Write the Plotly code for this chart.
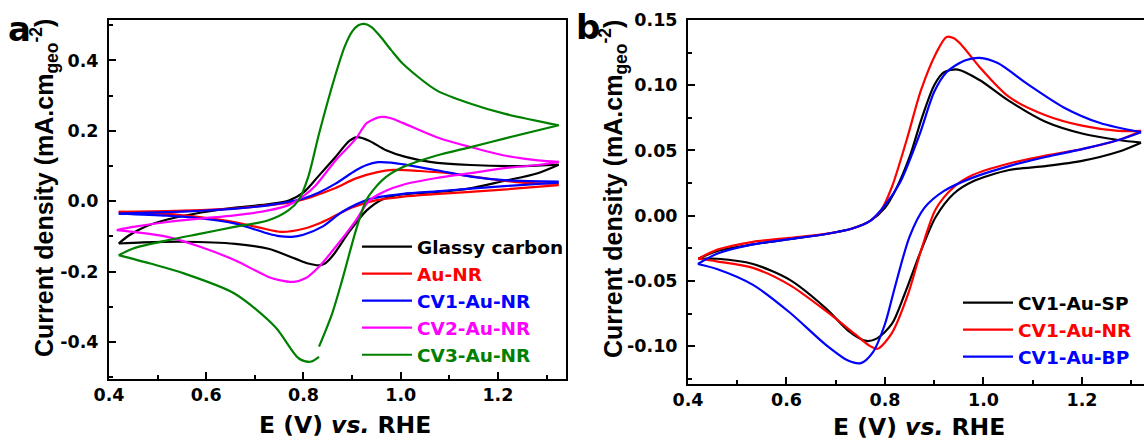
import plotly.graph_objects as go

W, H = 1144, 443

# ---------------- Panel a data (E in V vs RHE, j in mA cm-2) ----------------
gc_fwd_E = [0.42, 0.44, 0.47, 0.52, 0.59, 0.66, 0.73, 0.77, 0.80, 0.83, 0.866, 0.895, 0.911, 0.935, 0.97, 1.01, 1.06, 1.144, 1.25, 1.325]
gc_fwd_j = [-0.12, -0.098, -0.075, -0.052, -0.032, -0.018, -0.008, 0.002, 0.025, 0.07, 0.126, 0.172, 0.182, 0.172, 0.145, 0.126, 0.112, 0.103, 0.100, 0.104]
gc_rev_E = [1.325, 1.28, 1.21, 1.14, 1.07, 1.005, 0.963, 0.93, 0.895, 0.86, 0.845, 0.832, 0.81, 0.783, 0.728, 0.66, 0.55, 0.47, 0.42]
gc_rev_j = [0.104, 0.079, 0.057, 0.036, 0.026, 0.020, 0.006, -0.026, -0.085, -0.155, -0.176, -0.182, -0.177, -0.163, -0.135, -0.121, -0.115, -0.117, -0.12]

nr_fwd_E = [0.42, 0.52, 0.59, 0.66, 0.73, 0.77, 0.80, 0.832, 0.866, 0.908, 0.95, 0.984, 1.04, 1.11, 1.18, 1.25, 1.325]
nr_fwd_j = [-0.030, -0.028, -0.025, -0.020, -0.011, -0.004, 0.005, 0.020, 0.038, 0.065, 0.082, 0.089, 0.086, 0.078, 0.064, 0.053, 0.050]
nr_rev_E = [1.325, 1.21, 1.07, 1.005, 0.95, 0.90, 0.86, 0.832, 0.80, 0.755, 0.71, 0.66, 0.59, 0.52, 0.42]
nr_rev_j = [0.046, 0.033, 0.020, 0.013, 0.003, -0.018, -0.045, -0.063, -0.078, -0.087, -0.075, -0.060, -0.046, -0.036, -0.030]

cv1_fwd_E = [0.42, 0.52, 0.59, 0.66, 0.73, 0.776, 0.80, 0.832, 0.866, 0.908, 0.93, 0.953, 0.98, 1.005, 1.074, 1.144, 1.213, 1.325]
cv1_fwd_j = [-0.035, -0.031, -0.027, -0.021, -0.011, 0.000, 0.008, 0.025, 0.050, 0.088, 0.103, 0.111, 0.110, 0.105, 0.088, 0.070, 0.060, 0.056]
cv1_rev_E = [1.325, 1.282, 1.213, 1.144, 1.074, 1.005, 0.936, 0.88, 0.839, 0.80, 0.776, 0.75, 0.728, 0.658, 0.589, 0.52, 0.42]
cv1_rev_j = [0.053, 0.049, 0.043, 0.036, 0.028, 0.021, 0.006, -0.030, -0.072, -0.095, -0.101, -0.099, -0.092, -0.063, -0.049, -0.041, -0.035]

cv2_fwd_E = [0.416, 0.45, 0.52, 0.589, 0.658, 0.728, 0.769, 0.797, 0.825, 0.866, 0.908, 0.93, 0.957, 0.98, 1.005, 1.074, 1.144, 1.213, 1.282, 1.325]
cv2_fwd_j = [-0.082, -0.073, -0.059, -0.049, -0.040, -0.026, -0.011, 0.012, 0.045, 0.116, 0.178, 0.222, 0.239, 0.236, 0.222, 0.182, 0.154, 0.130, 0.116, 0.112]
cv2_rev_E = [1.325, 1.282, 1.213, 1.144, 1.074, 1.005, 0.97, 0.936, 0.908, 0.866, 0.832, 0.804, 0.78, 0.75, 0.728, 0.658, 0.589, 0.52, 0.45, 0.416]
cv2_rev_j = [0.112, 0.103, 0.094, 0.080, 0.066, 0.047, 0.030, 0.003, -0.054, -0.130, -0.186, -0.219, -0.229, -0.224, -0.215, -0.167, -0.130, -0.101, -0.087, -0.082]

cv3_fwd_E = [0.42, 0.45, 0.52, 0.589, 0.658, 0.728, 0.769, 0.79, 0.81, 0.832, 0.866, 0.885, 0.90, 0.913, 0.925, 0.94, 0.957, 0.98, 1.005, 1.074, 1.144, 1.213, 1.325]
cv3_fwd_j = [-0.153, -0.134, -0.111, -0.092, -0.073, -0.054, -0.026, 0.003, 0.070, 0.192, 0.360, 0.440, 0.482, 0.500, 0.504, 0.495, 0.470, 0.430, 0.390, 0.315, 0.277, 0.249, 0.216]
cv3_rev_E = [1.325, 1.213, 1.144, 1.074, 1.005, 0.97, 0.943, 0.929, 0.908, 0.88, 0.859, 0.832]
cv3_rev_j = [0.216, 0.178, 0.154, 0.130, 0.097, 0.069, 0.031, 0.003, -0.082, -0.222, -0.319, -0.413]
cv3_tail_E = [0.832, 0.814, 0.79, 0.742, 0.658, 0.554, 0.485, 0.42]
cv3_tail_j = [-0.442, -0.456, -0.446, -0.357, -0.262, -0.205, -0.177, -0.153]

# ---------------- Panel b data ----------------
sp_fwd_E = [0.421, 0.46, 0.532, 0.606, 0.68, 0.732, 0.77, 0.80, 0.822, 0.85, 0.875, 0.90, 0.92, 0.948, 0.992, 1.052, 1.126, 1.2, 1.274, 1.32]
sp_fwd_j = [-0.033, -0.027, -0.022, -0.018, -0.014, -0.010, -0.004, 0.006, 0.020, 0.045, 0.075, 0.100, 0.110, 0.112, 0.104, 0.088, 0.072, 0.063, 0.058, 0.056]
sp_rev_E = [1.32, 1.274, 1.2, 1.126, 1.052, 0.977, 0.94, 0.903, 0.873, 0.84, 0.814, 0.784, 0.762, 0.725, 0.68, 0.606, 0.532, 0.46, 0.421]
sp_rev_j = [0.056, 0.049, 0.042, 0.038, 0.035, 0.026, 0.017, -0.001, -0.027, -0.060, -0.083, -0.094, -0.096, -0.088, -0.071, -0.049, -0.037, -0.033, -0.033]

nrb_fwd_E = [0.421, 0.46, 0.532, 0.606, 0.68, 0.732, 0.77, 0.792, 0.814, 0.844, 0.873, 0.903, 0.925, 0.94, 0.955, 0.992, 1.052, 1.126, 1.2, 1.274, 1.32]
nrb_fwd_j = [-0.033, -0.026, -0.020, -0.017, -0.014, -0.010, -0.004, 0.004, 0.022, 0.058, 0.096, 0.124, 0.137, 0.136, 0.131, 0.114, 0.091, 0.077, 0.069, 0.065, 0.065]
nrb_rev_E = [1.32, 1.274, 1.2, 1.126, 1.052, 0.977, 0.94, 0.903, 0.873, 0.847, 0.814, 0.785, 0.77, 0.74, 0.68, 0.606, 0.532, 0.458, 0.421]
nrb_rev_j = [0.065, 0.058, 0.051, 0.046, 0.040, 0.031, 0.022, 0.005, -0.027, -0.060, -0.090, -0.102, -0.100, -0.091, -0.073, -0.053, -0.040, -0.035, -0.033]

bp_fwd_E = [0.42, 0.46, 0.532, 0.606, 0.68, 0.732, 0.77, 0.80, 0.83, 0.87, 0.90, 0.925, 0.962, 0.992, 1.029, 1.089, 1.163, 1.237, 1.32]
bp_fwd_j = [-0.037, -0.029, -0.022, -0.018, -0.014, -0.010, -0.004, 0.008, 0.025, 0.062, 0.095, 0.110, 0.119, 0.121, 0.117, 0.101, 0.083, 0.071, 0.064]
bp_rev_E = [1.32, 1.274, 1.2, 1.126, 1.052, 0.977, 0.92, 0.88, 0.85, 0.82, 0.80, 0.775, 0.751, 0.725, 0.68, 0.606, 0.532, 0.46, 0.42]
bp_rev_j = [0.064, 0.058, 0.051, 0.045, 0.038, 0.029, 0.019, 0.006, -0.016, -0.055, -0.083, -0.105, -0.113, -0.111, -0.099, -0.074, -0.053, -0.041, -0.037]

# ---------------- labels ----------------
names_a = ["Glassy carbon", "Au-NR", "CV1-Au-NR", "CV2-Au-NR", "CV3-Au-NR"]
colors_a = ["#000000", "#ff0000", "#0000ff", "#ff00ff", "#008000"]
names_b = ["CV1-Au-SP", "CV1-Au-NR", "CV1-Au-BP"]
colors_b = ["#000000", "#ff0000", "#0000ff"]

x_tickvals = [0.4, 0.6, 0.8, 1.0, 1.2]
x_ticktext = ["0.4", "0.6", "0.8", "1.0", "1.2"]
ya_tickvals = [-0.4, -0.2, 0.0, 0.2, 0.4]
ya_ticktext = ["-0.4", "-0.2", "0.0", "0.2", "0.4"]
yb_tickvals = [-0.10, -0.05, 0.0, 0.05, 0.10, 0.15]
yb_ticktext = ["-0.10", "-0.05", "0.00", "0.05", "0.10", "0.15"]

series_a = [
    [(gc_fwd_E, gc_fwd_j), (gc_rev_E, gc_rev_j)],
    [(nr_fwd_E, nr_fwd_j), (nr_rev_E, nr_rev_j)],
    [(cv1_fwd_E, cv1_fwd_j), (cv1_rev_E, cv1_rev_j)],
    [(cv2_fwd_E, cv2_fwd_j), (cv2_rev_E, cv2_rev_j)],
    [(cv3_fwd_E, cv3_fwd_j), (cv3_rev_E, cv3_rev_j), (cv3_tail_E, cv3_tail_j)],
]
series_b = [
    [(sp_fwd_E, sp_fwd_j), (sp_rev_E, sp_rev_j)],
    [(nrb_fwd_E, nrb_fwd_j), (nrb_rev_E, nrb_rev_j)],
    [(bp_fwd_E, bp_fwd_j), (bp_rev_E, bp_rev_j)],
]


def join(segs):
    xs, ys = [], []
    for i, (e, j) in enumerate(segs):
        if i:
            xs.append(None)
            ys.append(None)
        xs += list(e)
        ys += list(j)
    return xs, ys


fig = go.Figure()
for segs, name, col in zip(series_a, names_a, colors_a):
    xs, ys = join(segs)
    fig.add_trace(go.Scatter(x=xs, y=ys, mode="lines", xaxis="x", yaxis="y",
                             line=dict(color=col, width=2.2, shape="spline", smoothing=0.8),
                             connectgaps=False, legend="legend",
                             name=f"<span style='color:{col}'>{name}</span>"))
for segs, name, col in zip(series_b, names_b, colors_b):
    xs, ys = join(segs)
    fig.add_trace(go.Scatter(x=xs, y=ys, mode="lines", xaxis="x2", yaxis="y2",
                             line=dict(color=col, width=2.2, shape="spline", smoothing=0.8),
                             connectgaps=False, legend="legend2",
                             name=f"<span style='color:{col}'>{name}</span>"))

TICKFONT = dict(family="DejaVu Sans", size=17.5, color="black", weight="bold")
common = dict(showline=True, linewidth=2, linecolor="black", ticks="inside",
              ticklen=7, tickwidth=2, tickcolor="black", showgrid=False,
              zeroline=False, tickfont=TICKFONT, automargin=False)


def minor(d, t0):
    return dict(tickmode="linear", tick0=t0, dtick=d, ticks="inside", ticklen=4,
                tickwidth=2, tickcolor="black")


LEGFONT = dict(family="DejaVu Sans", size=18.5, color="black", weight="bold")
fig.update_layout(
    template="none",
    width=W, height=H, margin=dict(l=0, r=0, t=0, b=0, autoexpand=False),
    paper_bgcolor="white", plot_bgcolor="white", showlegend=True,
    xaxis=dict(domain=[109 / W, 566 / W], range=[0.4, 1.34], anchor="y", mirror=True,
               tickmode="array", tickvals=x_tickvals, ticktext=x_ticktext,
               minor=minor(0.1, 0.4), ticklabelstandoff=-1, **common),
    yaxis=dict(domain=[(H - 379) / H, (H - 20) / H], range=[-0.505, 0.515], anchor="x", mirror=True,
               tickmode="array", tickvals=ya_tickvals, ticktext=ya_ticktext,
               minor=minor(0.1, 0.0), ticklabelstandoff=5, **common),
    xaxis2=dict(domain=[688 / W, 1.0], range=[0.4, 1.326], anchor="y2", mirror=True,
                tickmode="array", tickvals=x_tickvals, ticktext=x_ticktext,
                minor=minor(0.1, 0.4), ticklabelstandoff=-1, **common),
    yaxis2=dict(domain=[(H - 384) / H, (H - 20) / H], range=[-0.129, 0.15], anchor="x2", mirror=False,
                tickmode="array", tickvals=yb_tickvals, ticktext=yb_ticktext,
                minor=minor(0.025, 0.0), ticklabelstandoff=5, **common),
    legend=dict(x=357 / W, y=1 - 228 / H, xanchor="left", yanchor="top",
                bgcolor="rgba(0,0,0,0)", borderwidth=0, itemwidth=50,
                font=LEGFONT, tracegroupgap=0),
    legend2=dict(x=958 / W, y=1 - 284 / H, xanchor="left", yanchor="top",
                 bgcolor="rgba(0,0,0,0)", borderwidth=0, itemwidth=50,
                 font=LEGFONT, tracegroupgap=0),
)

TITLEFONT = dict(family="DejaVu Sans", size=23.5, color="black", weight="bold")
YTITLEFONT = dict(family="Liberation Sans", size=25, color="black", weight="bold")
ytitle = "Current density (mA.cm<sub>geo</sub><sup>-2</sup>)"
xtitle = "E (V) <i>vs.</i> RHE"
annos = [
    dict(text=xtitle, x=345 / W, y=1 - 425 / H, font=TITLEFONT, textangle=0),
    dict(text=xtitle, x=919 / W, y=1 - 427 / H, font=TITLEFONT, textangle=0),
    dict(text=ytitle, x=44 / W, y=1 - 188 / H, font=YTITLEFONT, textangle=-90),
    dict(text=ytitle, x=613 / W, y=1 - 189 / H, font=YTITLEFONT, textangle=-90),
]
for a in annos:
    fig.add_annotation(xref="paper", yref="paper", xanchor="center", yanchor="middle",
                       showarrow=False, **a)
PANELFONT = dict(family="DejaVu Sans", size=34, color="black", weight="bold")
fig.add_annotation(text="a", xref="paper", yref="paper", x=6 / W, y=1 - 29 / H,
                   xanchor="left", yanchor="middle", showarrow=False, font=PANELFONT)
fig.add_annotation(text="b", xref="paper", yref="paper", x=574 / W, y=1 - 27 / H,
                   xanchor="left", yanchor="middle", showarrow=False, font=PANELFONT)

fig.write_html("out.html")
